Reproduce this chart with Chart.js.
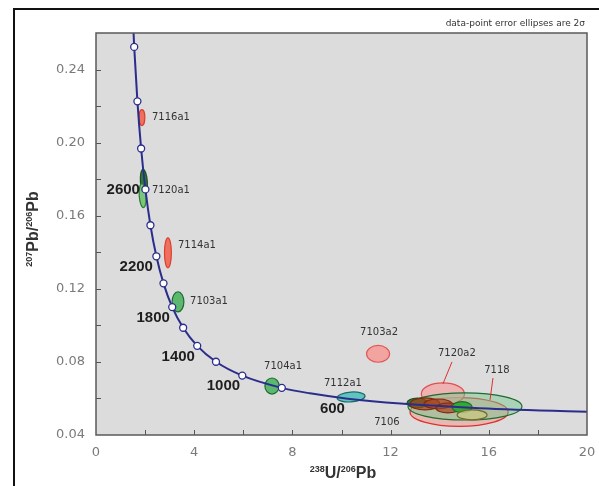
<!DOCTYPE html>
<html>
<head>
<meta charset="utf-8">
<script src="https://cdn.jsdelivr.net/npm/chart.js@4.4.1/dist/chart.umd.min.js"></script>
<style>
  html, body { margin: 0; padding: 0; background: #fff; }
  #wrap { width: 599px; height: 486px; }
</style>
</head>
<body>
<div id="wrap"><canvas id="tw"></canvas></div>
<script>
// Tera-Wasserburg concordia, points every 200 Ma (plus 700 / 500 / 300 for the lower part)
const ages  = [3400, 3200, 3000, 2800, 2600, 2400, 2200, 2000, 1800, 1600, 1400, 1200, 1000, 800, 700, 600, 500, 400, 300];
const concX = [1.440, 1.556, 1.687, 1.838, 2.013, 2.217, 2.459, 2.749, 3.105, 3.550, 4.123, 4.887, 5.959, 7.568, 8.718, 10.252, 12.399, 15.621, 20.992];
const concY = [0.2867, 0.2524, 0.2226, 0.1968, 0.1744, 0.1548, 0.1378, 0.1230, 0.1100, 0.0987, 0.0888, 0.0801, 0.0725, 0.0658, 0.0628, 0.0599, 0.0572, 0.0547, 0.0523];

// age labels on the curve
const ageLabels = ['2600', '2200', '1800', '1400', '1000', '600'];
const ageLabelX = [1.79, 2.32, 3.01, 4.03, 5.87, 10.14];
const ageLabelY = [0.1742, 0.1320, 0.1041, 0.0827, 0.0668, 0.0542];

// analysis spots: centre and 2 sigma half-widths
const spotNames = ['7116a1', '7120a1', '', '7114a1', '7103a1', '7104a1', '7112a1', '7103a2', '7106', '7120a2', '7118', '', '', '', '', '', ''];
const spotX   = [1.87, 1.95, 1.90, 2.93, 3.34, 7.17, 10.39, 11.49, 14.79, 14.13, 15.03, 13.08, 13.40, 13.93, 14.34, 14.91, 15.32];
const spotY   = [0.2137, 0.1786, 0.1710, 0.1397, 0.1129, 0.0668, 0.0608, 0.0844, 0.0526, 0.0625, 0.0556, 0.0575, 0.0570, 0.0570, 0.0548, 0.0553, 0.0510];
const spotErrX = [0.12, 0.14, 0.14, 0.14, 0.24, 0.29, 0.57, 0.47, 2.00, 0.88, 2.32, 0.41, 0.61, 0.57, 0.49, 0.41, 0.61];
const spotErrY = [0.0044, 0.0068, 0.0066, 0.0082, 0.0055, 0.0044, 0.0027, 0.0046, 0.0079, 0.0060, 0.0074, 0.0027, 0.0033, 0.0027, 0.0027, 0.0030, 0.0027];

const xTicks = [0, 4, 8, 12, 16, 20];
const yTicks = [0.04, 0.08, 0.12, 0.16, 0.20, 0.24];

// ---- styles -------------------------------------------------------------
const RED = ['#f07060', '#d84030'], PINK = ['rgba(246,150,145,0.8)', '#e05858'];
const GRN = ['#5cb86e', '#1f6b30'], DKG = ['#2f7a3a', '#1c4f22'];
const BRN = ['rgba(165,70,30,0.7)', '#7e2a10'];
const spotStyle = [RED, DKG, ['#78c878', '#2f7a3a'], RED, GRN, GRN, ['#5fc4c0', '#1c6a6a'], PINK,
  ['rgba(240,160,150,0.6)', '#e03030'], ['rgba(246,160,160,0.7)', '#e05050'], ['rgba(110,200,140,0.45)', '#1f6b30'],
  DKG, BRN, BRN, BRN, ['#34a834', '#1f6b30'], ['rgba(200,200,130,0.8)', '#6d6d2d']];
const spotTilt = [0, -4, -4, 0, 0, 0, -4, 0, 0, 0, 0, 0, 0, 0, 0, 0, 0];
// where each name sits: [x, y, align]
const spotLabelPos = {
  '7116a1': [2.28, 0.2137, 'left'], '7120a1': [2.28, 0.1737, 'left'], '7114a1': [3.34, 0.1436, 'left'],
  '7103a1': [3.83, 0.1129, 'left'], '7104a1': [7.62, 0.0778, 'center'], '7112a1': [10.06, 0.0685, 'center'],
  '7103a2': [11.53, 0.0959, 'center'], '7120a2': [14.70, 0.0844, 'center'], '7118': [16.33, 0.0756, 'center'],
  '7106': [11.85, 0.0471, 'center']
};
const leaders = [[14.50, 0.0800, 14.13, 0.0679], [16.17, 0.0712, 16.05, 0.0592]];

const CURVE = '#2b2d8c';

function richText(ctx, parts, x, y, big, small) {
  // draws [text, isSuperscript] pieces centred on x
  let w = 0;
  parts.forEach(p => { ctx.font = p[1] ? small : big; w += ctx.measureText(p[0]).width; });
  let cx = x - w / 2;
  parts.forEach(p => {
    ctx.font = p[1] ? small : big;
    ctx.fillText(p[0], cx, p[1] ? y - 6 : y);
    cx += ctx.measureText(p[0]).width;
  });
}

const overlay = {
  id: 'overlay',
  beforeDraw(chart) {
    const { ctx, chartArea: a } = chart;
    ctx.save();
    ctx.fillStyle = '#dcdcdc';
    ctx.fillRect(a.left, a.top, a.right - a.left, a.bottom - a.top);
    ctx.restore();
  },
  beforeDatasetsDraw(chart) {
    const { ctx, chartArea: a, scales: { x, y } } = chart;
    ctx.save();
    ctx.beginPath();
    ctx.rect(a.left, a.top, a.right - a.left, a.bottom - a.top);
    ctx.clip();
    ctx.lineWidth = 1.2;
    spotX.forEach((v, i) => {
      const cx = x.getPixelForValue(v), cy = y.getPixelForValue(spotY[i]);
      const rx = Math.abs(x.getPixelForValue(v + spotErrX[i]) - cx);
      const ry = Math.abs(y.getPixelForValue(spotY[i] + spotErrY[i]) - cy);
      ctx.fillStyle = spotStyle[i][0];
      ctx.strokeStyle = spotStyle[i][1];
      ctx.beginPath();
      ctx.ellipse(cx, cy, rx, ry, spotTilt[i] * Math.PI / 180, 0, Math.PI * 2);
      ctx.fill();
      ctx.stroke();
    });
    ctx.restore();
  },
  afterDatasetsDraw(chart) {
    const { ctx, chartArea: a, scales: { x, y } } = chart;
    ctx.save();
    // leader lines
    ctx.strokeStyle = '#e03030';
    ctx.lineWidth = 1;
    leaders.forEach(l => {
      ctx.beginPath();
      ctx.moveTo(x.getPixelForValue(l[0]), y.getPixelForValue(l[1]));
      ctx.lineTo(x.getPixelForValue(l[2]), y.getPixelForValue(l[3]));
      ctx.stroke();
    });
    // spot names
    ctx.fillStyle = '#333';
    ctx.font = '10px "DejaVu Sans"';
    ctx.textBaseline = 'middle';
    spotNames.forEach(n => {
      if (!n) return;
      const p = spotLabelPos[n];
      ctx.textAlign = p[2];
      ctx.fillText(n, x.getPixelForValue(p[0]), y.getPixelForValue(p[1]));
    });
    // age labels
    ctx.fillStyle = '#1e1e1e';
    ctx.font = 'bold 15px "Liberation Sans"';
    ctx.textAlign = 'right';
    ageLabels.forEach((t, i) => ctx.fillText(t, x.getPixelForValue(ageLabelX[i]), y.getPixelForValue(ageLabelY[i])));
    // inward ticks every 2 / 0.02
    ctx.strokeStyle = '#555';
    ctx.lineWidth = 1;
    for (let v = 2; v < 20; v += 2) {
      const px = Math.round(x.getPixelForValue(v)) + 0.5;
      ctx.beginPath(); ctx.moveTo(px, a.bottom); ctx.lineTo(px, a.bottom - 5); ctx.stroke();
    }
    for (let k = 3; k <= 12; k++) {
      const py = Math.round(y.getPixelForValue(k * 0.02)) + 0.5;
      ctx.beginPath(); ctx.moveTo(a.left, py); ctx.lineTo(a.left + 5, py); ctx.stroke();
    }
    // plot border
    ctx.strokeStyle = '#5a5a5a';
    ctx.lineWidth = 1.5;
    ctx.strokeRect(a.left, a.top, a.right - a.left, a.bottom - a.top);
    // outer frame
    ctx.strokeStyle = '#111';
    ctx.lineWidth = 2;
    ctx.beginPath(); ctx.moveTo(14, 486); ctx.lineTo(14, 9); ctx.lineTo(599, 9); ctx.stroke();
    // note
    ctx.fillStyle = '#333';
    ctx.font = '9px "DejaVu Sans"';
    ctx.textAlign = 'right';
    ctx.fillText('data-point error ellipses are 2\u03c3', 585, 24);
    // axis titles
    ctx.fillStyle = '#333';
    ctx.textAlign = 'left';
    ctx.textBaseline = 'alphabetic';
    const big = 'bold 16px "Liberation Sans"', small = 'bold 9px "Liberation Sans"';
    richText(ctx, [['238', 1], ['U/', 0], ['206', 1], ['Pb', 0]], 343, 478, big, small);
    ctx.translate(38, 229);
    ctx.rotate(-Math.PI / 2);
    richText(ctx, [['207', 1], ['Pb/', 0], ['206', 1], ['Pb', 0]], 0, 0, big, small);
    ctx.restore();
  }
};

new Chart(document.getElementById('tw'), {
  type: 'scatter',
  data: {
    datasets: [{
      data: concX.map((v, i) => ({ x: v, y: concY[i] })),
      showLine: true,
      borderColor: CURVE,
      borderWidth: 2,
      cubicInterpolationMode: 'monotone',
      pointRadius: ages.map(a => (a <= 3200 && a >= 800 && a % 200 === 0) ? 3.5 : 0),
      pointBackgroundColor: '#fff',
      pointBorderColor: CURVE,
      pointBorderWidth: 1.3
    }]
  },
  options: {
    responsive: true,
    maintainAspectRatio: false,
    animation: false,
    layout: { padding: { left: 0, top: 33, right: 12, bottom: 0 } },
    plugins: { legend: { display: false }, tooltip: { enabled: false } },
    scales: {
      x: {
        type: 'linear', min: 0, max: 20,
        afterBuildTicks: s => { s.ticks = xTicks.map(v => ({ value: v })); },
        afterFit: s => { s.height = 51; s.paddingLeft = 0; s.paddingRight = 0; },
        grid: { display: false, drawTicks: false },
        border: { display: false },
        ticks: { padding: 10, color: '#7a7a7a', font: { family: 'DejaVu Sans', size: 13 } }
      },
      y: {
        type: 'linear', min: 0.04, max: 0.26,
        afterBuildTicks: s => { s.ticks = yTicks.map(v => ({ value: v })); },
        afterFit: s => { s.width = 96; s.paddingTop = 0; s.paddingBottom = 0; },
        grid: { display: false, drawTicks: false },
        border: { display: false },
        ticks: { padding: 11, color: '#7a7a7a', font: { family: 'DejaVu Sans', size: 13 },
          callback: v => v.toFixed(2) }
      }
    }
  },
  plugins: [overlay]
});
</script>
</body>
</html>
